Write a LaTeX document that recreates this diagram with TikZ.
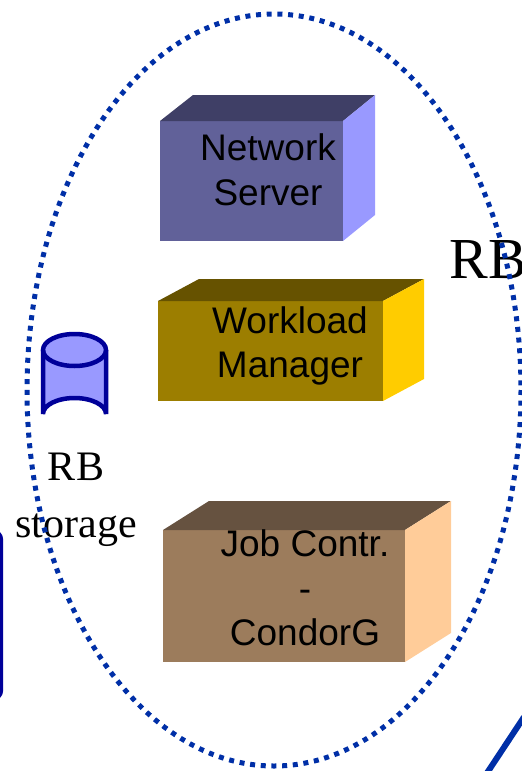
\documentclass[tikz,border=0pt]{standalone}
\usepackage{fontspec}
\setmainfont{Liberation Serif}
\setsansfont{Liberation Sans}
\definecolor{lineblue}{HTML}{002FA7}
\definecolor{darkblue}{HTML}{000099}
\definecolor{drumblue}{HTML}{9999FF}
\tikzset{
    boxlabel/.style={font=\sffamily\fontsize{37}{44.5}\selectfont, align=center, text=black},
    seriflabel/.style={font=\rmfamily\fontsize{42}{57}\selectfont, align=center, text=black},
    bigserif/.style={font=\rmfamily\fontsize{58}{60}\selectfont, text=black}
}
\begin{document}
\begin{tikzpicture}[x=1pt,y=-1pt]

    % --- Picture frame ---
    \useasboundingbox (0,0) rectangle (522,771);

    % --- Network Server box ---
    \fill[fill={rgb,255:red,97;green,97;blue,153}] (160,121) rectangle (343,241);
    \fill[fill={rgb,255:red,63;green,63;blue,102}] (160,121) -- (193,95) -- (375,95) -- (343,121) -- cycle;
    \fill[fill=drumblue] (343,121) -- (375,95) -- (375,215) -- (343,241) -- cycle;

    % --- Workload Manager box ---
    \fill[fill={rgb,255:red,156;green,126;blue,0}] (158,301) rectangle (383,401);
    \fill[fill={rgb,255:red,102;green,82;blue,0}] (158,301) -- (199,279) -- (424,279) -- (383,301) -- cycle;
    \fill[fill={rgb,255:red,255;green,204;blue,0}] (383,301) -- (424,279) -- (424,379) -- (383,401) -- cycle;

    % --- Job Controller box ---
    \fill[fill={rgb,255:red,156;green,124;blue,92}] (163,530) rectangle (405,662);
    \fill[fill={rgb,255:red,102;green,82;blue,64}] (163,530) -- (209,501) -- (451,501) -- (405,530) -- cycle;
    \fill[fill={rgb,255:red,255;green,204;blue,153}] (405,530) -- (451,501) -- (451,633) -- (405,662) -- cycle;

    % --- Box labels ---
    \node[boxlabel] (network) at (268,170) {Network\\Server};
    \node[boxlabel] (workload) at (290,346) {Workload\\Manager};
    \node[boxlabel] (jobcontr) at (305,588) {Job Contr.\\-\\CondorG};

    % --- Storage drum ---
    \fill[drumblue] (43,350) -- (43,414) arc (180:0:31.5 and -16) -- (106,350) -- cycle;
    \draw[darkblue, line width=4.5pt, fill=drumblue] (74.5,350) ellipse (31.5 and 16);
    \draw[darkblue, line width=4.5pt] (43,350) -- (43,414) arc (180:0:31.5 and -16) -- (106,350);

    % --- Serif labels ---
    \node[seriflabel] (storage) at (76,500) {RB\\storage};
    \node[bigserif, anchor=base west] (rb) at (446,278) {RB};

    % --- Dotted ellipse round the broker ---
    \draw[lineblue, line width=5pt, dash pattern=on 5pt off 5.7pt] (274,390) ellipse (247 and 376);

    % --- Cut-off shapes at the edges ---
    \draw[darkblue, line width=6pt, rounded corners=6pt] (-20,533) -- (0,533) -- (0,697) -- (-20,697);
    \draw[lineblue, line width=6pt] (524,717) -- (487,773);

\end{tikzpicture}
\end{document}
